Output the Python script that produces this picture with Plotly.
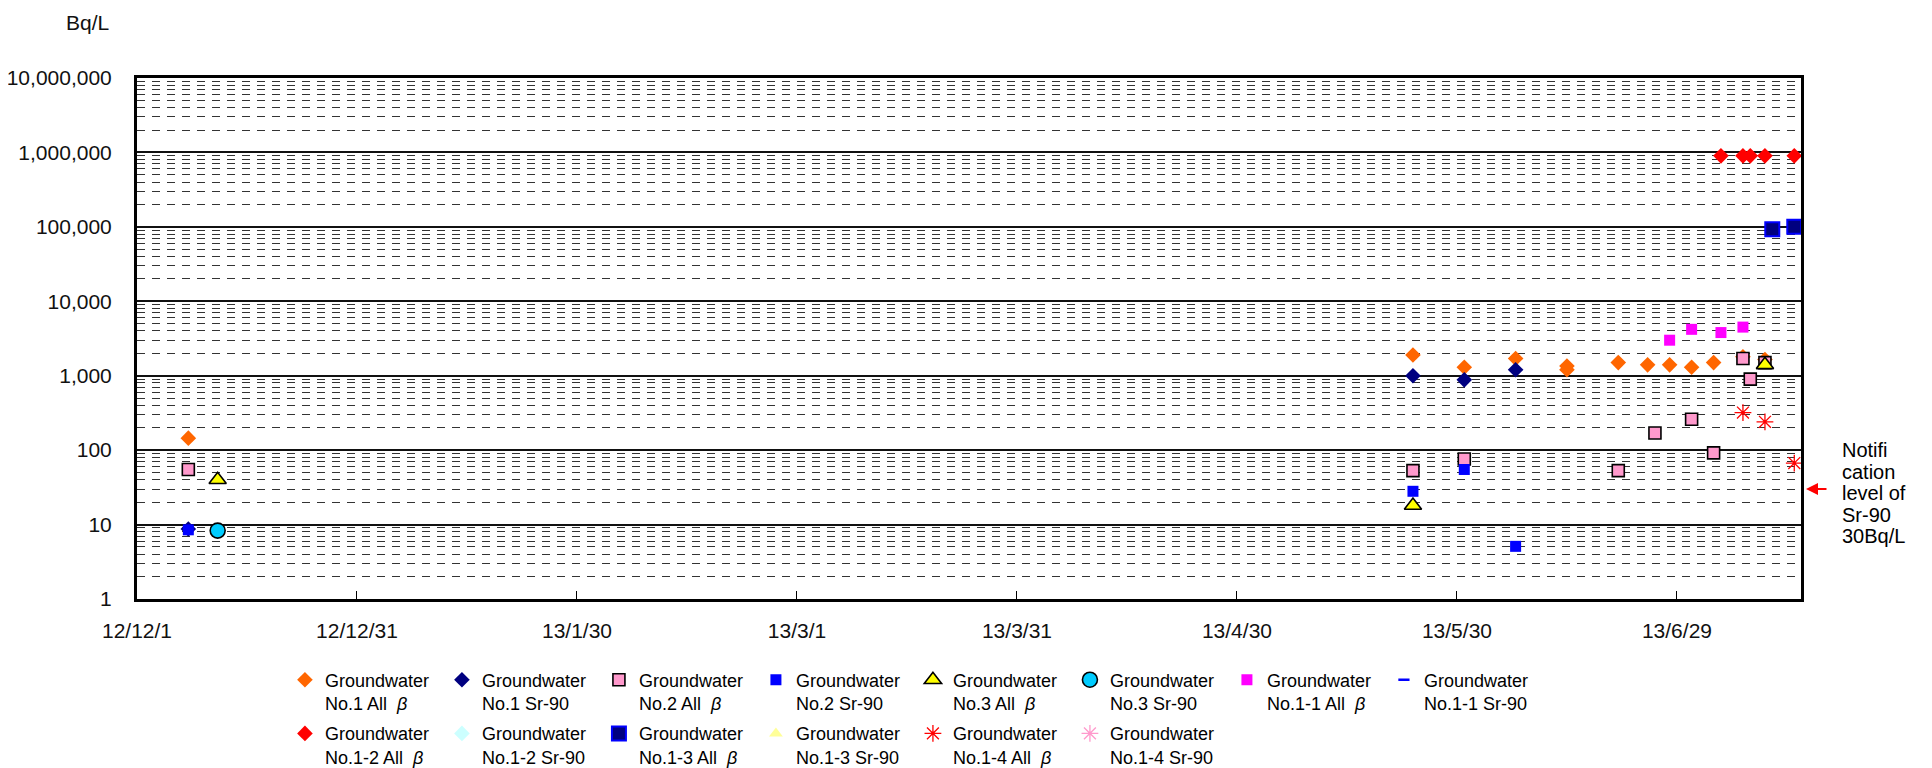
import math
import plotly.graph_objects as go

# ---------------- data ----------------
gw1_allb_dates = ['2012-12-08', '2013-05-24', '2013-05-31', '2013-06-07', '2013-06-14', '2013-06-14',
                  '2013-06-21', '2013-06-25', '2013-06-28', '2013-07-01', '2013-07-04', '2013-07-08', '2013-07-11']
gw1_allb = [145, 1900, 1300, 1700, 1350, 1200, 1500, 1400, 1400, 1300, 1500, 1800, 1650]

gw1_sr_dates = ['2012-12-08', '2013-05-24', '2013-05-31', '2013-06-07']
gw1_sr = [8.7, 1000, 880, 1200]

gw2_allb_dates = ['2012-12-08', '2013-05-24', '2013-05-31', '2013-06-21', '2013-06-26', '2013-07-01',
                  '2013-07-04', '2013-07-08', '2013-07-09', '2013-07-11']
gw2_allb = [55, 53, 76, 53, 170, 260, 92, 1700, 900, 1500]

gw2_sr_dates = ['2012-12-08', '2013-05-24', '2013-05-31', '2013-06-07']
gw2_sr = [8.5, 28, 55, 5.1]

gw3_allb_dates = ['2012-12-12', '2013-05-24', '2013-07-11']
gw3_allb = [40, 18, 1400]

gw3_sr_dates = ['2012-12-12']
gw3_sr = [8.3]

gw11_allb_dates = ['2013-06-28', '2013-07-01', '2013-07-05', '2013-07-08']
gw11_allb = [3000, 4200, 3800, 4500]

gw11_sr_dates = []
gw11_sr = []

gw12_allb_dates = ['2013-07-05', '2013-07-08', '2013-07-09', '2013-07-11', '2013-07-15']
gw12_allb = [900000, 900000, 900000, 900000, 900000]

gw12_sr_dates = []
gw12_sr = []

gw13_allb_dates = ['2013-07-12', '2013-07-15']
gw13_allb = [93000, 100000]

gw13_sr_dates = []
gw13_sr = []

gw14_allb_dates = ['2013-07-08', '2013-07-11', '2013-07-15']
gw14_allb = [320, 240, 67]

gw14_sr_dates = []
gw14_sr = []

x_tick_vals = ['2012-12-01', '2012-12-31', '2013-01-30', '2013-03-01', '2013-03-31',
               '2013-04-30', '2013-05-30', '2013-06-29']
x_tick_text = ['12/12/1', '12/12/31', '13/1/30', '13/3/1', '13/3/31', '13/4/30', '13/5/30', '13/6/29']
y_tick_vals = [1, 10, 100, 1000, 10000, 100000, 1000000, 10000000]
y_tick_text = ['1', '10', '100', '1,000', '10,000', '100,000', '1,000,000', '10,000,000']
notification_level = 30
notification_lines = ['Notifi', 'cation', 'level of', 'Sr-90', '30Bq/L']

FONT = 'Liberation Sans, Arial, sans-serif'
BETA = '<i>β</i>'

series = [
    # name, dates, values, symbol, fill, line color, line width, size, legend
    ('Groundwater<br>No.1 All  ' + BETA, gw1_allb_dates, gw1_allb, 'diamond', '#FF6600', '#FF6600', 0, 12, 'legend'),
    ('Groundwater<br>No.1 Sr-90', gw1_sr_dates, gw1_sr, 'diamond', '#000080', '#000080', 0, 12, 'legend'),
    ('Groundwater<br>No.2 All  ' + BETA, gw2_allb_dates, gw2_allb, 'square', '#FF99CC', '#000000', 1.6, 12, 'legend'),
    ('Groundwater<br>No.2 Sr-90', gw2_sr_dates, gw2_sr, 'square', '#0000FF', '#0000FF', 0, 11, 'legend'),
    ('Groundwater<br>No.3 All  ' + BETA, gw3_allb_dates, gw3_allb, 'triangle-up', '#FFFF00', '#000000', 1.6, 15, 'legend'),
    ('Groundwater<br>No.3 Sr-90', gw3_sr_dates, gw3_sr, 'circle', '#00CCFF', '#000000', 1.6, 15, 'legend'),
    ('Groundwater<br>No.1-1 All  ' + BETA, gw11_allb_dates, gw11_allb, 'square', '#FF00FF', '#FF00FF', 0, 11, 'legend'),
    ('Groundwater<br>No.1-1 Sr-90', gw11_sr_dates, gw11_sr, 'line-ew', '#0000FF', '#0000FF', 2.5, 8, 'legend'),
    ('Groundwater<br>No.1-2 All  ' + BETA, gw12_allb_dates, gw12_allb, 'diamond', '#FF0000', '#FF0000', 0, 12, 'legend2'),
    ('Groundwater<br>No.1-2 Sr-90', gw12_sr_dates, gw12_sr, 'diamond', '#CCFFFF', '#CCFFFF', 0, 12, 'legend2'),
    ('Groundwater<br>No.1-3 All  ' + BETA, gw13_allb_dates, gw13_allb, 'square', '#000080', '#0000FF', 2, 14, 'legend2'),
    ('Groundwater<br>No.1-3 Sr-90', gw13_sr_dates, gw13_sr, 'triangle-up', '#FFFF99', '#FFFF99', 0, 12, 'legend2'),
    ('Groundwater<br>No.1-4 All  ' + BETA, gw14_allb_dates, gw14_allb, 'asterisk-open', '#FF0000', '#FF0000', 1.3, 14, 'legend2'),
    ('Groundwater<br>No.1-4 Sr-90', gw14_sr_dates, gw14_sr, 'asterisk-open', '#FF99CC', '#FF99CC', 1.3, 14, 'legend2'),
]

fig = go.Figure()
for name, xs, ys, sym, fill, lc, lw, size, leg in series:
    fig.add_trace(go.Scatter(
        x=xs if xs else [None], y=ys if ys else [None], mode='markers', name=name, legend=leg,
        marker=dict(symbol=sym, color=fill, size=size, line=dict(color=lc, width=lw)),
        cliponaxis=False,
    ))

minor_vals = [m * 10 ** d for d in range(7) for m in range(2, 10)]

legend_common = dict(orientation='h', xanchor='left', yanchor='top',
                     entrywidth=112, entrywidthmode='pixels', valign='top',
                     font=dict(family=FONT, size=18, color='black'), bgcolor='rgba(0,0,0,0)',
                     tracegroupgap=0)

# page body has an 8px margin: the figure is sized/offset to compensate
fig.update_layout(
    width=1924, height=760,
    margin=dict(l=129, r=131, t=70, b=169, autoexpand=False),
    paper_bgcolor='white', plot_bgcolor='white',
    font=dict(family=FONT, size=21, color='black'),
    showlegend=True,
    xaxis=dict(
        type='date', range=['2012-12-01', '2013-07-15 22:00'], automargin=False,
        tickmode='array', tickvals=x_tick_vals, ticktext=x_tick_text,
        ticks='inside', ticklen=8, tickwidth=1, tickcolor='black',
        showgrid=False, showline=True, linewidth=3, linecolor='black', mirror=True,
        tickfont=dict(family=FONT, size=21, color='#111'), ticklabelstandoff=11,
    ),
    yaxis=dict(
        type='log', range=[0, 7], automargin=False,
        tickmode='array', tickvals=y_tick_vals, ticktext=y_tick_text,
        ticks='', showgrid=True, gridcolor='#111', gridwidth=2,
        showline=True, linewidth=3, linecolor='black', mirror=True,
        tickfont=dict(family=FONT, size=21, color='#111'), ticklabelstandoff=18,
        minor=dict(tickmode='array', tickvals=minor_vals, showgrid=True,
                   gridcolor='#333', gridwidth=1.2, griddash='8px,7px', ticks=''),
    ),
    legend=dict(x=0.0889, y=-0.120, **legend_common),
    legend2=dict(x=0.0889, y=-0.223, **legend_common),
)

fig.add_annotation(text='Bq/L', xref='paper', yref='paper', x=-0.030, y=1.107,
                   xanchor='center', yanchor='middle',
                   showarrow=False, font=dict(family=FONT, size=21, color='#111'))

# notification level arrow
fig.add_annotation(text='', xref='paper', yref='y', x=1.003, y=math.log10(notification_level),
                   showarrow=True, ax=22, ay=0, arrowhead=2, arrowsize=1.2, arrowwidth=2, arrowcolor='#FF0000')
for i, line in enumerate(notification_lines):
    fig.add_annotation(text=line, xref='paper', yref='paper', x=1.0235, xanchor='left',
                       y=(599 - 450 - i * 21.6) / 521, yanchor='middle', showarrow=False,
                       font=dict(family=FONT, size=20, color='black'))

fig.write_html('out.html')
